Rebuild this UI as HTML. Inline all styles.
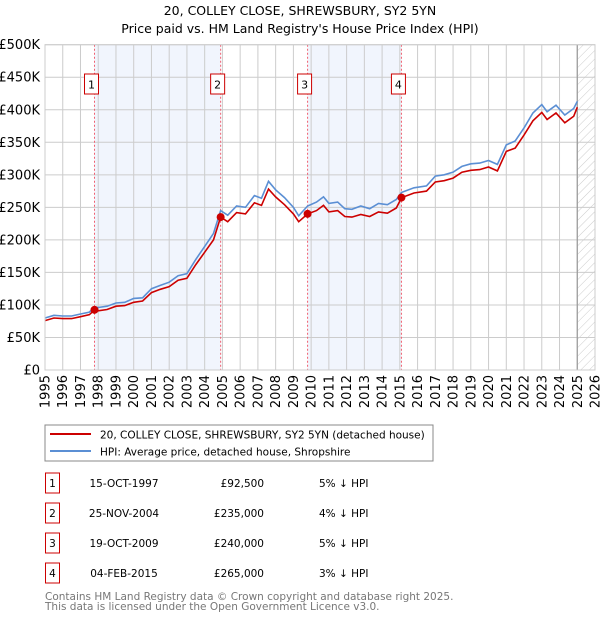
<!DOCTYPE html>
<html><head><meta charset="utf-8"><style>
body{margin:0;background:#fff;font-family:"Liberation Sans","DejaVu Sans",sans-serif;}
svg text{font-family:"DejaVu Sans","Liberation Sans",sans-serif;}
</style></head><body>
<svg id="c" width="600" height="620" xmlns="http://www.w3.org/2000/svg">
<defs><pattern id="hatch" width="6" height="6" patternUnits="userSpaceOnUse" patternTransform="rotate(45)"><line x1="0" y1="0" x2="0" y2="6" stroke="#ccc" stroke-width="1"/></pattern></defs>
<text x="300" y="15" text-anchor="middle" font-size="12.5">20, COLLEY CLOSE, SHREWSBURY, SY2 5YN</text>
<text x="300" y="33" text-anchor="middle" font-size="12.5">Price paid vs. HM Land Registry's House Price Index (HPI)</text>
<g id="plot"></g>
<rect x="45" y="425" width="388" height="36" fill="#fff" stroke="#888"/>
<line x1="50" y1="434" x2="91" y2="434" stroke="#cc0000" stroke-width="2"/>
<text x="100" y="438.5" font-size="10.5">20, COLLEY CLOSE, SHREWSBURY, SY2 5YN (detached house)</text>
<line x1="50" y1="451" x2="91" y2="451" stroke="#5b8fd4" stroke-width="2"/>
<text x="100" y="455.5" font-size="10.5">HPI: Average price, detached house, Shropshire</text>
<g id="table" font-size="10.5"></g>
<text x="45" y="600" font-size="10.5" fill="#777">Contains HM Land Registry data © Crown copyright and database right 2025.</text>
<text x="45" y="610" font-size="10.5" fill="#777">This data is licensed under the Open Government Licence v3.0.</text>
</svg>
<script>
const hpiYears=[1995,1995.5,1996,1996.5,1997,1997.5,1997.8,1998,1998.5,1999,1999.5,2000,2000.5,2001,2001.5,2002,2002.5,2003,2003.5,2004,2004.5,2004.9,2005.3,2005.8,2006.3,2006.8,2007.2,2007.6,2008,2008.5,2009,2009.3,2009.8,2010.3,2010.7,2011,2011.5,2011.9,2012.3,2012.8,2013.3,2013.8,2014.3,2014.8,2015.1,2015.8,2016.5,2017,2017.5,2018,2018.5,2019,2019.5,2020,2020.5,2021,2021.5,2022,2022.5,2023,2023.3,2023.8,2024.3,2024.8,2025];
const hpiValues=[80,84,83,83,86,89,97,96,98,103,104,110,111,125,130,135,145,148,170,190,210,245,238,252,250,268,264,290,277,265,250,237,252,258,266,256,258,248,247,252,248,256,254,262,273,280,283,298,300,304,313,317,318,322,316,346,352,372,395,408,397,407,392,402,413];
const priceValues=[76,80,79,79,82,85,92.5,91,93,98,99,104,106,119,124,128,138,141,162,181,200,235,228,242,240,257,253,278,266,254,240,228,240,245,253,243,245,236,235,239,236,243,241,249,265,272,275,289,291,295,304,307,308,312,306,336,341,361,383,396,385,395,380,390,404];
const saleLabels=["1","2","3","4"];
const saleYears=[1997.79,2004.9,2009.8,2015.09];
const saleValues=[92.5,235,240,265];
const saleDates=["15-OCT-1997","25-NOV-2004","19-OCT-2009","04-FEB-2015"];
const salePrices=["£92,500","£235,000","£240,000","£265,000"];
const saleDiffs=["5% ↓ HPI","4% ↓ HPI","5% ↓ HPI","3% ↓ HPI"];
const yTicks=[0,50,100,150,200,250,300,350,400,450,500];
const yTickLabels=["£0","£50K","£100K","£150K","£200K","£250K","£300K","£350K","£400K","£450K","£500K"];
const xTicks=[1995,1996,1997,1998,1999,2000,2001,2002,2003,2004,2005,2006,2007,2008,2009,2010,2011,2012,2013,2014,2015,2016,2017,2018,2019,2020,2021,2022,2023,2024,2025,2026];
const X0=45,X1=595,Y0=370,Y1=44.7;
const xs=v=>X0+(v-1995)/(2026-1995)*(X1-X0);
const ys=v=>Y0-v/500*(Y0-Y1);
const NS="http://www.w3.org/2000/svg";
const g=document.getElementById('plot');
function mk(t,a,p){const e=document.createElementNS(NS,t);for(const k in a)e.setAttribute(k,a[k]);(p||g).appendChild(e);return e;}
for(let i=0;i<saleYears.length;i+=2){
 const r=mk('rect',{x:xs(saleYears[i]),y:Y1,width:xs(saleYears[i+1])-xs(saleYears[i]),height:Y0-Y1,fill:'#eef3fc',opacity:0.8});
 
 
}
const hr=mk('rect',{x:xs(2025),y:Y1,width:xs(2026)-xs(2025),height:Y0-Y1,fill:'url(#hatch)'});


yTicks.forEach((v,i)=>{
 const l=mk('line',{x1:X0,x2:X1,y1:ys(v),y2:ys(v),stroke:'#ccc','stroke-width':1});
 
 
 const t=mk('text',{x:X0-5,y:ys(v)+4.5,'text-anchor':'end','font-size':13});
 t.textContent=yTickLabels[i];
 
 
});
xTicks.forEach(v=>{
 const l=mk('line',{x1:xs(v),x2:xs(v),y1:Y1,y2:Y0,stroke:'#ccc','stroke-width':1});
 
 
 const t=mk('text',{x:0,y:0,'font-size':13,'text-anchor':'end',transform:`translate(${xs(v)+4.5},${Y0+5}) rotate(-90)`});
 t.textContent=v;
 
 
});
const vl=mk('line',{x1:xs(2025),x2:xs(2025),y1:Y1,y2:Y0,stroke:'#999','stroke-width':1.2});


saleYears.forEach((yr,i)=>{
 const l=mk('line',{x1:xs(yr),x2:xs(yr),y1:Y1,y2:Y0,stroke:'#f06070','stroke-width':1,'stroke-dasharray':'2,2'});
 
 
 const bx=xs(yr)-10;
 const b=mk('rect',{x:bx,y:74,width:14,height:20,fill:'#fff',stroke:'#cc0000'});
 
 
 const t=mk('text',{x:bx+7,y:88.5,'text-anchor':'middle','font-size':11});
 t.textContent=saleLabels[i];
 
 
});
function path(vals){return hpiYears.map((y,i)=>(i?'L':'M')+xs(y).toFixed(1)+','+ys(vals[i]).toFixed(1)).join('');}
const hp=mk('path',{d:path(hpiValues),fill:'none',stroke:'#5b8fd4','stroke-width':1.6});


const pp=mk('path',{d:path(priceValues),fill:'none',stroke:'#cc0000','stroke-width':1.6});


saleYears.forEach((yr,i)=>{
 const c=mk('circle',{cx:xs(yr),cy:ys(saleValues[i]),r:4,fill:'#cc0000'});
 
 
});
const fr=mk('rect',{x:X0,y:Y1,width:X1-X0,height:Y0-Y1,fill:'none',stroke:'#ccc'});


const tb=document.getElementById('table');
saleLabels.forEach((s,i)=>{
 const y=483+i*30;
 const b=mk('rect',{x:45.5,y:y-10,width:14,height:20,fill:'#fff',stroke:'#cc0000'},tb);
 
 
 const cells=[[52.5,'middle',s,'row-number'],[124,'middle',saleDates[i],'row-date'],[264,'end',salePrices[i],'row-price'],[319,'start',saleDiffs[i],'row-hpi-diff']];
 cells.forEach(c=>{
  const t=mk('text',{x:c[0],y:y+4,'text-anchor':c[1]},tb);
  t.textContent=c[2];
  
  
 });
});
</script>
</body></html>
